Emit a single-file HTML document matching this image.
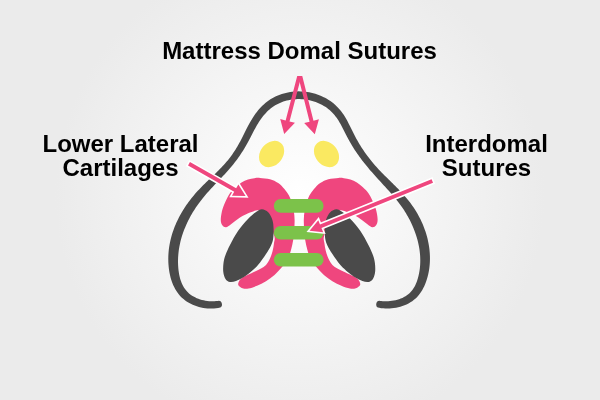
<!DOCTYPE html>
<html><head><meta charset="utf-8">
<style>
html,body{margin:0;padding:0;width:600px;height:400px;overflow:hidden}
body{background:radial-gradient(ellipse 245px 245px at 300px 195px,#ffffff 0%,#ebebeb 100%)}
svg{position:absolute;left:0;top:0;will-change:transform}
.t{font-family:"Liberation Sans",sans-serif;font-weight:bold;font-size:24px;fill:#000}
</style></head><body>
<svg width="600" height="400" viewBox="0 0 600 400">
<path d="M217.83,300.90 L216.14,301.12 L214.42,301.25 L212.66,301.31 L210.88,301.29 L209.08,301.18 L207.28,300.99 L205.47,300.71 L203.67,300.36 L201.89,299.92 L200.13,299.40 L198.41,298.80 L196.73,298.13 L195.10,297.37 L193.54,296.54 L192.04,295.64 L190.62,294.67 L189.28,293.63 L188.04,292.53 L186.89,291.36 L185.82,290.11 L184.84,288.80 L183.93,287.42 L183.10,285.97 L182.34,284.47 L181.65,282.90 L181.02,281.29 L180.46,279.63 L179.97,277.92 L179.54,276.18 L179.17,274.40 L178.85,272.60 L178.59,270.78 L178.38,268.94 L178.22,267.09 L178.11,265.24 L178.04,263.39 L178.01,261.54 L178.03,259.70 L178.09,257.87 L178.20,256.04 L178.34,254.22 L178.53,252.40 L178.75,250.59 L179.01,248.78 L179.32,246.98 L179.66,245.19 L180.04,243.40 L180.45,241.62 L180.90,239.84 L181.39,238.08 L181.91,236.32 L182.47,234.56 L183.06,232.82 L183.69,231.08 L184.35,229.35 L185.04,227.63 L185.76,225.92 L186.52,224.22 L187.31,222.52 L188.12,220.84 L188.97,219.17 L189.84,217.51 L190.74,215.87 L191.67,214.23 L192.63,212.61 L193.62,211.00 L194.63,209.41 L195.66,207.82 L196.72,206.26 L197.81,204.70 L198.91,203.17 L200.04,201.65 L201.19,200.14 L202.36,198.66 L203.56,197.18 L204.78,195.72 L206.01,194.28 L207.27,192.84 L208.54,191.41 L209.83,189.98 L211.13,188.56 L212.44,187.15 L213.77,185.74 L215.10,184.33 L216.44,182.92 L217.78,181.51 L219.13,180.10 L220.47,178.68 L221.82,177.26 L223.16,175.83 L224.50,174.39 L225.83,172.94 L227.16,171.48 L228.47,170.00 L229.77,168.51 L231.06,167.01 L232.34,165.48 L233.59,163.94 L234.83,162.37 L236.04,160.78 L237.23,159.17 L238.40,157.55 L239.54,155.91 L240.66,154.25 L241.76,152.57 L242.84,150.89 L243.89,149.19 L244.92,147.47 L245.93,145.75 L246.92,144.01 L247.89,142.26 L248.84,140.51 L249.77,138.74 L250.68,136.98 L251.58,135.23 L252.46,133.49 L253.35,131.77 L254.24,130.07 L255.16,128.38 L256.09,126.72 L257.04,125.07 L258.02,123.46 L259.03,121.86 L260.06,120.31 L261.13,118.79 L262.22,117.30 L263.35,115.86 L264.51,114.47 L265.71,113.13 L266.94,111.84 L268.21,110.60 L269.52,109.42 L270.87,108.31 L272.27,107.26 L273.71,106.27 L275.21,105.33 L276.75,104.47 L278.33,103.66 L279.96,102.91 L281.63,102.23 L283.32,101.61 L285.05,101.06 L286.81,100.57 L288.58,100.15 L290.38,99.80 L292.19,99.52 L294.02,99.30 L295.85,99.15 L297.69,99.07 L299.52,99.07 L301.36,99.13 L303.19,99.26 L305.02,99.46 L306.84,99.72 L308.64,100.06 L310.43,100.45 L312.20,100.92 L313.95,101.45 L315.68,102.04 L317.38,102.69 L319.04,103.41 L320.67,104.18 L322.27,105.02 L323.82,105.91 L325.34,106.86 L326.80,107.87 L328.22,108.93 L329.59,110.04 L330.90,111.21 L332.15,112.42 L333.34,113.69 L334.48,115.02 L335.58,116.40 L336.63,117.84 L337.65,119.33 L338.63,120.87 L339.58,122.46 L340.52,124.09 L341.43,125.75 L342.33,127.45 L343.22,129.17 L344.11,130.91 L345.00,132.68 L345.90,134.45 L346.81,136.23 L347.74,138.02 L348.69,139.80 L349.67,141.57 L350.68,143.32 L351.70,145.05 L352.75,146.77 L353.82,148.46 L354.91,150.14 L356.02,151.81 L357.14,153.45 L358.29,155.08 L359.45,156.70 L360.63,158.30 L361.82,159.89 L363.03,161.46 L364.25,163.02 L365.48,164.56 L366.73,166.10 L367.99,167.62 L369.26,169.13 L370.54,170.63 L371.83,172.12 L373.13,173.59 L374.44,175.06 L375.75,176.52 L377.07,177.97 L378.38,179.42 L379.70,180.85 L381.02,182.29 L382.33,183.72 L383.64,185.15 L384.95,186.57 L386.25,188.00 L387.54,189.43 L388.82,190.86 L390.09,192.30 L391.35,193.73 L392.59,195.18 L393.82,196.63 L395.03,198.08 L396.23,199.55 L397.40,201.02 L398.56,202.51 L399.69,204.00 L400.80,205.51 L401.89,207.04 L402.95,208.57 L403.99,210.12 L405.00,211.70 L405.98,213.29 L406.94,214.90 L407.87,216.53 L408.78,218.17 L409.66,219.84 L410.50,221.52 L411.32,223.21 L412.11,224.92 L412.87,226.64 L413.59,228.38 L414.28,230.13 L414.94,231.88 L415.56,233.65 L416.15,235.43 L416.70,237.21 L417.22,239.00 L417.69,240.80 L418.13,242.60 L418.54,244.41 L418.90,246.22 L419.22,248.03 L419.50,249.85 L419.74,251.67 L419.93,253.48 L420.09,255.30 L420.19,257.12 L420.26,258.93 L420.28,260.74 L420.25,262.55 L420.18,264.35 L420.05,266.15 L419.88,267.95 L419.66,269.74 L419.39,271.52 L419.07,273.30 L418.70,275.07 L418.28,276.83 L417.80,278.56 L417.27,280.27 L416.67,281.94 L416.02,283.57 L415.30,285.14 L414.52,286.66 L413.67,288.11 L412.75,289.50 L411.75,290.81 L410.67,292.05 L409.51,293.20 L408.26,294.29 L406.91,295.31 L405.49,296.24 L403.99,297.10 L402.42,297.88 L400.78,298.57 L399.08,299.18 L397.33,299.71 L395.54,300.15 L393.73,300.52 L391.89,300.81 L390.05,301.02 L388.21,301.16 L386.38,301.22 L384.58,301.22 L382.82,301.15 L381.10,301.01 L380.26,300.92 A3.50,3.50 0 0 0 379.23,307.85 L379.23,307.85 L381.21,308.15 L383.25,308.36 L385.33,308.49 L387.44,308.52 L389.57,308.46 L391.73,308.31 L393.89,308.07 L396.05,307.72 L398.20,307.28 L400.33,306.74 L402.43,306.09 L404.51,305.33 L406.53,304.45 L408.50,303.47 L410.40,302.37 L412.22,301.16 L413.97,299.84 L415.62,298.41 L417.17,296.88 L418.61,295.25 L419.94,293.56 L421.17,291.79 L422.29,289.97 L423.31,288.10 L424.25,286.18 L425.10,284.24 L425.86,282.27 L426.55,280.28 L427.17,278.28 L427.73,276.27 L428.22,274.25 L428.64,272.22 L429.01,270.18 L429.31,268.13 L429.56,266.08 L429.74,264.02 L429.87,261.96 L429.94,259.89 L429.95,257.82 L429.90,255.76 L429.81,253.69 L429.65,251.63 L429.45,249.57 L429.19,247.51 L428.89,245.46 L428.53,243.42 L428.12,241.38 L427.67,239.36 L427.17,237.34 L426.62,235.34 L426.03,233.35 L425.39,231.37 L424.71,229.40 L423.98,227.45 L423.22,225.52 L422.41,223.60 L421.57,221.71 L420.68,219.83 L419.76,217.97 L418.80,216.14 L417.81,214.32 L416.77,212.53 L415.71,210.77 L414.61,209.03 L413.48,207.31 L412.32,205.63 L411.12,203.97 L409.90,202.35 L408.66,200.75 L407.39,199.19 L406.11,197.65 L404.80,196.13 L403.48,194.64 L402.15,193.17 L400.80,191.72 L399.44,190.28 L398.07,188.87 L396.70,187.46 L395.32,186.07 L393.93,184.69 L392.55,183.31 L391.16,181.94 L389.77,180.58 L388.39,179.22 L387.01,177.86 L385.64,176.50 L384.28,175.14 L382.92,173.77 L381.58,172.40 L380.25,171.02 L378.93,169.63 L377.64,168.23 L376.35,166.82 L375.09,165.39 L373.84,163.95 L372.61,162.49 L371.40,161.02 L370.21,159.53 L369.04,158.03 L367.88,156.52 L366.75,154.99 L365.63,153.45 L364.53,151.89 L363.45,150.32 L362.40,148.73 L361.36,147.13 L360.34,145.51 L359.34,143.88 L358.37,142.24 L357.41,140.58 L356.48,138.90 L355.56,137.22 L354.67,135.51 L353.79,133.78 L352.92,132.03 L352.05,130.27 L351.17,128.49 L350.29,126.71 L349.39,124.92 L348.48,123.13 L347.53,121.35 L346.56,119.58 L345.54,117.82 L344.48,116.08 L343.37,114.37 L342.20,112.69 L340.96,111.05 L339.65,109.44 L338.27,107.89 L336.81,106.40 L335.30,104.97 L333.72,103.61 L332.08,102.32 L330.39,101.10 L328.65,99.94 L326.86,98.86 L325.03,97.84 L323.16,96.90 L321.24,96.02 L319.30,95.22 L317.32,94.49 L315.31,93.84 L313.28,93.26 L311.22,92.76 L309.14,92.33 L307.05,91.98 L304.94,91.71 L302.82,91.51 L300.70,91.40 L298.57,91.37 L296.43,91.42 L294.31,91.56 L292.19,91.77 L290.08,92.07 L287.99,92.44 L285.92,92.90 L283.87,93.43 L281.84,94.04 L279.84,94.73 L277.88,95.50 L275.95,96.35 L274.06,97.27 L272.22,98.27 L270.42,99.34 L268.67,100.49 L266.98,101.72 L265.35,103.02 L263.78,104.38 L262.28,105.79 L260.84,107.26 L259.45,108.78 L258.11,110.34 L256.83,111.94 L255.60,113.58 L254.41,115.25 L253.27,116.94 L252.17,118.66 L251.11,120.41 L250.08,122.17 L249.09,123.94 L248.13,125.72 L247.21,127.51 L246.31,129.29 L245.43,131.06 L244.57,132.82 L243.71,134.57 L242.85,136.30 L241.98,138.01 L241.09,139.72 L240.19,141.41 L239.27,143.10 L238.33,144.77 L237.37,146.42 L236.40,148.06 L235.40,149.68 L234.37,151.28 L233.33,152.86 L232.26,154.41 L231.16,155.95 L230.04,157.46 L228.88,158.94 L227.70,160.40 L226.49,161.84 L225.25,163.27 L223.98,164.67 L222.70,166.07 L221.39,167.45 L220.06,168.82 L218.71,170.18 L217.35,171.53 L215.98,172.88 L214.59,174.23 L213.20,175.57 L211.79,176.91 L210.39,178.26 L208.97,179.61 L207.56,180.97 L206.15,182.34 L204.74,183.72 L203.33,185.11 L201.93,186.51 L200.53,187.94 L199.15,189.38 L197.78,190.85 L196.43,192.33 L195.09,193.85 L193.77,195.39 L192.48,196.95 L191.20,198.53 L189.96,200.13 L188.73,201.76 L187.54,203.41 L186.37,205.07 L185.23,206.76 L184.11,208.47 L183.03,210.20 L181.97,211.95 L180.95,213.72 L179.96,215.50 L179.01,217.31 L178.08,219.13 L177.19,220.97 L176.34,222.83 L175.53,224.70 L174.75,226.59 L174.01,228.50 L173.32,230.42 L172.66,232.36 L172.04,234.31 L171.47,236.27 L170.94,238.25 L170.46,240.24 L170.02,242.24 L169.63,244.26 L169.29,246.28 L168.99,248.31 L168.75,250.36 L168.55,252.41 L168.41,254.47 L168.32,256.54 L168.28,258.61 L168.30,260.69 L168.37,262.77 L168.50,264.86 L168.69,266.95 L168.93,269.05 L169.24,271.15 L169.61,273.24 L170.05,275.33 L170.56,277.40 L171.15,279.45 L171.81,281.48 L172.55,283.48 L173.38,285.44 L174.30,287.36 L175.31,289.24 L176.42,291.06 L177.62,292.82 L178.93,294.51 L180.35,296.13 L181.87,297.67 L183.49,299.11 L185.21,300.44 L187.00,301.68 L188.85,302.81 L190.78,303.84 L192.75,304.77 L194.78,305.60 L196.84,306.33 L198.93,306.96 L201.06,307.49 L203.20,307.92 L205.35,308.25 L207.51,308.47 L209.66,308.59 L211.80,308.60 L213.93,308.51 L216.03,308.30 L218.10,307.98 L219.12,307.78 A3.50,3.50 0 0 0 217.83,300.90 Z" fill="#4a4a4a"/>
<ellipse cx="271.6" cy="154" rx="14.3" ry="11.2" transform="rotate(-50 271.6 154)" fill="#fae961"/>
<ellipse cx="326.5" cy="154" rx="14.3" ry="11.2" transform="rotate(50 326.5 154)" fill="#fae961"/>
<g id="L">
<path d="M260.00,177.90 C262.58,178.07 266.97,178.35 270.00,179.20 C273.03,180.05 275.80,181.37 278.20,183.00 C280.60,184.63 282.60,186.90 284.40,189.00 C286.20,191.10 287.77,193.27 289.00,195.60 C290.23,197.93 291.00,200.43 291.80,203.00 C292.60,205.57 293.33,208.17 293.80,211.00 C294.27,213.83 294.53,216.83 294.60,220.00 C294.67,223.17 294.43,226.67 294.20,230.00 C293.97,233.33 293.73,236.67 293.20,240.00 C292.67,243.33 291.90,246.83 291.00,250.00 C290.10,253.17 289.30,256.17 287.80,259.00 C286.30,261.83 284.22,264.33 282.00,267.00 C279.78,269.67 277.17,272.62 274.50,275.00 C271.83,277.38 268.92,279.50 266.00,281.30 C263.08,283.10 259.92,284.58 257.00,285.80 C254.08,287.02 250.92,288.20 248.50,288.60 C246.08,289.00 244.20,288.80 242.50,288.20 C240.80,287.60 238.80,286.28 238.30,285.00 C237.80,283.72 238.72,281.80 239.50,280.50 C240.28,279.20 241.58,278.15 243.00,277.20 C244.42,276.25 246.00,275.73 248.00,274.80 C250.00,273.87 252.83,272.63 255.00,271.60 C257.17,270.57 259.17,269.70 261.00,268.60 C262.83,267.50 264.50,266.68 266.00,265.00 C267.50,263.32 268.90,260.83 270.00,258.50 C271.10,256.17 271.93,253.58 272.60,251.00 C273.27,248.42 273.72,245.50 274.00,243.00 C274.28,240.50 275.30,239.50 274.30,236.00 C273.30,232.50 270.05,225.92 268.00,222.00 C265.95,218.08 263.75,214.47 262.00,212.50 C260.25,210.53 259.50,210.18 257.50,210.20 C255.50,210.22 252.92,211.37 250.00,212.60 C247.08,213.83 243.17,215.65 240.00,217.60 C236.83,219.55 233.33,222.68 231.00,224.30 C228.67,225.92 227.45,227.13 226.00,227.30 C224.55,227.47 223.17,226.43 222.30,225.30 C221.43,224.17 220.92,222.55 220.80,220.50 C220.68,218.45 221.07,215.58 221.60,213.00 C222.13,210.42 222.67,208.21 224.00,205.00 C225.33,201.79 227.68,196.70 229.60,193.75 C231.52,190.80 233.52,189.16 235.50,187.30 C237.48,185.44 239.42,183.90 241.50,182.60 C243.58,181.30 245.83,180.23 248.00,179.50 C250.17,178.77 252.50,178.47 254.50,178.20 C256.50,177.93 257.42,177.73 260.00,177.90 Z" fill="#ef467e"/>
<path d="M262.00,209.20 C264.03,209.25 266.47,210.50 268.20,212.30 C269.93,214.10 271.50,217.22 272.40,220.00 C273.30,222.78 273.48,225.83 273.60,229.00 C273.72,232.17 273.53,236.25 273.10,239.00 C272.67,241.75 272.18,243.00 271.00,245.50 C269.82,248.00 268.17,250.75 266.00,254.00 C263.83,257.25 260.67,261.92 258.00,265.00 C255.33,268.08 252.50,270.42 250.00,272.50 C247.50,274.58 245.33,276.08 243.00,277.50 C240.67,278.92 238.17,280.25 236.00,281.00 C233.83,281.75 231.75,282.33 230.00,282.00 C228.25,281.67 226.62,280.67 225.50,279.00 C224.38,277.33 223.63,274.67 223.30,272.00 C222.97,269.33 223.13,265.83 223.50,263.00 C223.87,260.17 224.42,258.00 225.50,255.00 C226.58,252.00 227.92,249.00 230.00,245.00 C232.08,241.00 235.00,235.33 238.00,231.00 C241.00,226.67 245.00,222.17 248.00,219.00 C251.00,215.83 253.67,213.63 256.00,212.00 C258.33,210.37 259.97,209.15 262.00,209.20 Z" fill="#4a4a4a"/>
</g>
<use href="#L" transform="translate(598.4,0) scale(-1,1)"/>
<rect x="273.8" y="199.1" width="49.8" height="13.6" rx="6.8" fill="#7cc24a"/>
<rect x="273.8" y="226" width="49.8" height="13.6" rx="6.8" fill="#7cc24a"/>
<rect x="273.8" y="253" width="49.8" height="13.6" rx="6.8" fill="#7cc24a"/>
<path d="M297.23,75.90 L285.64,120.43 L280.22,119.02 L284.20,133.90 L294.93,122.85 L289.51,121.44 L301.37,75.90 Z" fill="#ef467e"/>
<path d="M298.14,75.90 L309.60,121.69 L304.17,123.05 L314.80,134.20 L318.92,119.36 L313.48,120.72 L302.26,75.90 Z" fill="#ef467e"/>
<path d="M188.04,165.49 L234.21,191.76 L231.96,195.72 L245.60,196.00 L238.38,184.42 L236.13,188.37 L189.96,162.11 Z" fill="#ef467e" stroke="#fff" stroke-width="3.2" paint-order="stroke" stroke-linejoin="miter"/>
<path d="M431.57,179.19 L319.99,224.39 L318.28,220.17 L309.60,230.70 L323.16,232.22 L321.45,228.00 L433.03,182.81 Z" fill="#ef467e" stroke="#fff" stroke-width="3.2" paint-order="stroke" stroke-linejoin="miter"/>
<text class="t" x="299.5" y="58.5" text-anchor="middle">Mattress Domal Sutures</text>
<text class="t" x="120.5" y="152" text-anchor="middle">Lower Lateral</text>
<text class="t" x="120.5" y="176" text-anchor="middle">Cartilages</text>
<text class="t" x="486.5" y="152" text-anchor="middle">Interdomal</text>
<text class="t" x="486.5" y="176" text-anchor="middle">Sutures</text>
</svg>
</body></html>
